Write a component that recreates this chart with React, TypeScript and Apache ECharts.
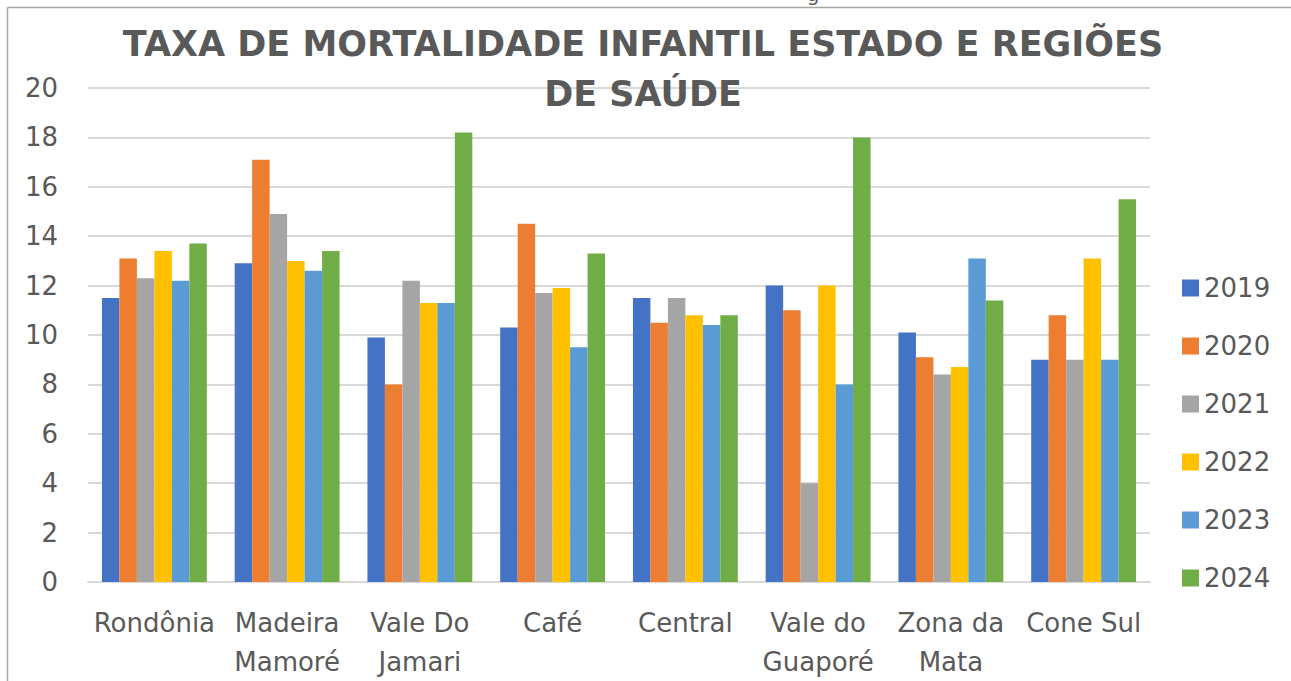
import React, { useEffect, useRef } from "react";
import * as echarts from "echarts";

const categories = [
  "Rondônia",
  "Madeira\nMamoré",
  "Vale Do\nJamari",
  "Café",
  "Central",
  "Vale do\nGuaporé",
  "Zona da\nMata",
  "Cone Sul",
];

const years = ["2019", "2020", "2021", "2022", "2023", "2024"];

const s2019 = [11.5, 12.9, 9.9, 10.3, 11.5, 12.0, 10.1, 9.0];
const s2020 = [13.1, 17.1, 8.0, 14.5, 10.5, 11.0, 9.1, 10.8];
const s2021 = [12.3, 14.9, 12.2, 11.7, 11.5, 4.0, 8.4, 9.0];
const s2022 = [13.4, 13.0, 11.3, 11.9, 10.8, 12.0, 8.7, 13.1];
const s2023 = [12.2, 12.6, 11.3, 9.5, 10.4, 8.0, 13.1, 9.0];
const s2024 = [13.7, 13.4, 18.2, 13.3, 10.8, 18.0, 11.4, 15.5];

const seriesValues = [s2019, s2020, s2021, s2022, s2023, s2024];
const colors = ["#4472C4", "#ED7D31", "#A5A5A5", "#FFC000", "#5B9BD5", "#70AD47"];

const titleText = "TAXA DE MORTALIDADE INFANTIL ESTADO E REGIÕES\nDE SAÚDE";

export default function App() {
  const ref = useRef<HTMLDivElement>(null);

  useEffect(() => {
    if (!ref.current) return;
    const chart = echarts.init(ref.current, undefined, { renderer: "svg" });
    const font = "DejaVu Sans";
    chart.setOption({
      animation: false,
      backgroundColor: "#ffffff",
      textStyle: { fontFamily: font },
      title: {
        text: titleText,
        left: 638,
        top: 14,
        textAlign: "center",
        textStyle: {
          fontFamily: font,
          fontWeight: "bold",
          fontSize: 35,
          lineHeight: 50,
          color: "#595959",
        },
      },
      legend: {
        orient: "vertical",
        left: 1177,
        top: 270,
        itemWidth: 17,
        itemHeight: 17,
        itemGap: 32,
        icon: "rect",
        textStyle: {
          fontFamily: font,
          fontSize: 26,
          lineHeight: 26,
          color: "#595959",
          padding: [0, 0, 0, 0],
        },
        data: years,
      },
      grid: {
        left: 88,
        right: 141,
        top: 88,
        bottom: 99,
        containLabel: false,
      },
      xAxis: {
        type: "category",
        data: categories,
        axisLine: { show: true, lineStyle: { color: "#d9d9d9", width: 2 } },
        axisTick: { show: false },
        axisLabel: {
          interval: 0,
          margin: 21,
          fontFamily: font,
          fontSize: 26,
          lineHeight: 39,
          color: "#595959",
        },
      },
      yAxis: {
        type: "value",
        min: 0,
        max: 20,
        interval: 2,
        axisLine: { show: false },
        axisTick: { show: false },
        splitLine: { lineStyle: { color: "#d9d9d9", width: 2 } },
        axisLabel: {
          margin: 30,
          fontFamily: font,
          fontSize: 26,
          color: "#595959",
        },
      },
      series: years.map((y, i) => ({
        name: y,
        type: "bar",
        data: seriesValues[i],
        barGap: "0%",
        barCategoryGap: "21%",
        itemStyle: { color: colors[i] },
      })),
      graphic: [
        {
          type: "line",
          shape: { x1: 7.5, y1: 7.5, x2: 1291, y2: 7.5 },
          style: { stroke: "#a6a6a6", lineWidth: 1.5 },
        },
        {
          type: "line",
          shape: { x1: 7.5, y1: 7.5, x2: 7.5, y2: 681 },
          style: { stroke: "#a6a6a6", lineWidth: 1.5 },
        },
        {
          type: "text",
          x: 813,
          y: 4,
          style: {
            text: "g",
            fontFamily: font,
            fontSize: 20,
            fill: "#595959",
            align: "center",
            verticalAlign: "bottom",
          },
        },
      ],
    });
    return () => chart.dispose();
  }, []);

  return (
    <div
      ref={ref}
      style={{ position: "absolute", left: 0, top: 0, width: 1291, height: 681 }}
    />
  );
}
